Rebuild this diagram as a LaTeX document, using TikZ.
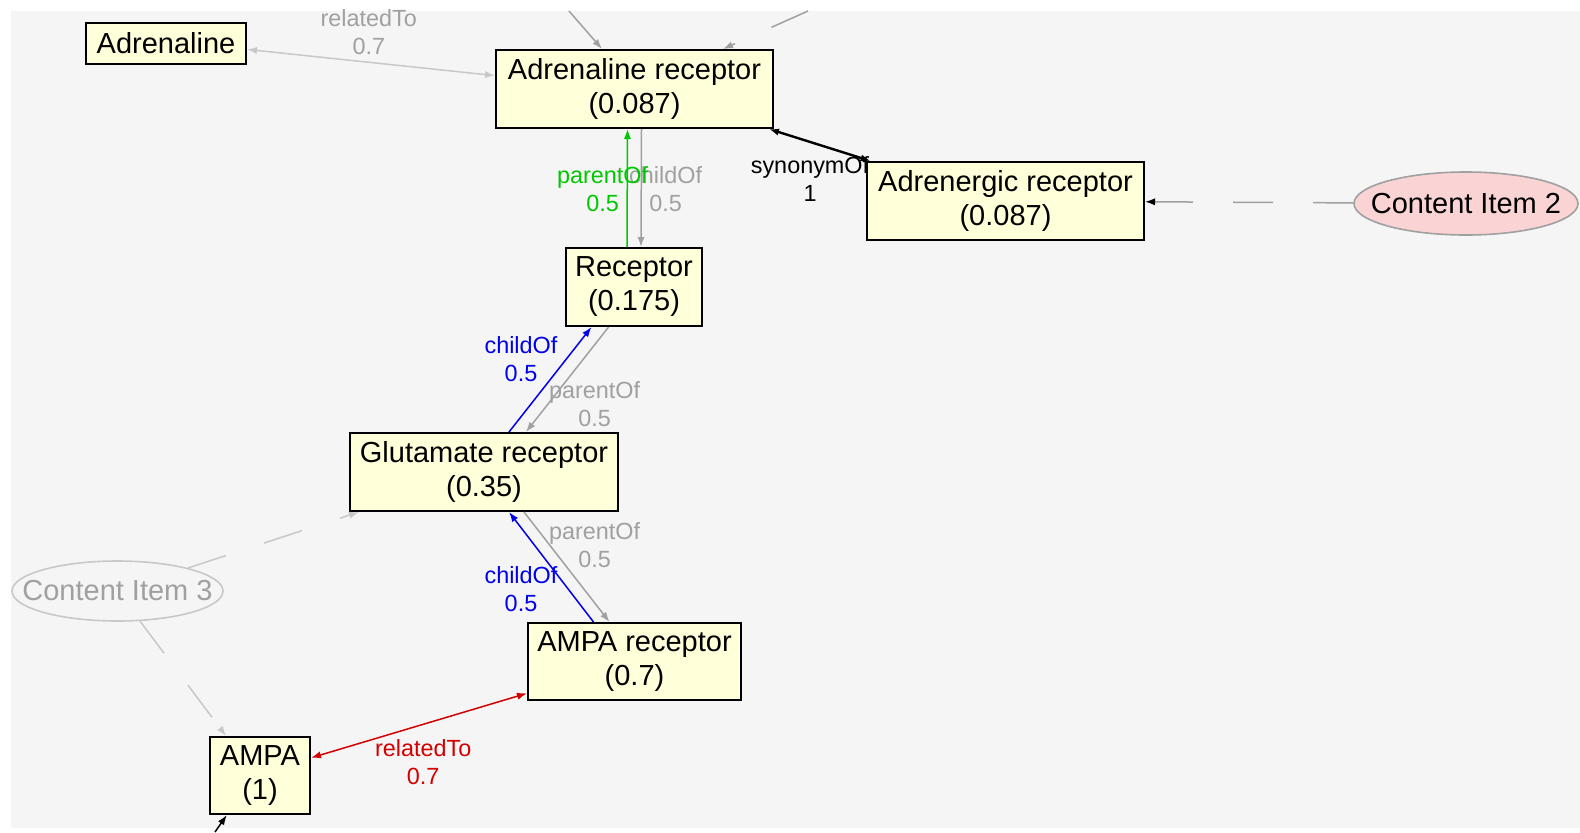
\documentclass[tikz,border=0pt]{standalone}
\usepackage{fontspec}
\setmainfont{Liberation Sans}
\usetikzlibrary{arrows.meta,shapes.geometric}
\definecolor{canvas}{RGB}{245,245,245}
\definecolor{termfill}{RGB}{255,255,218}
\definecolor{itemfill}{RGB}{250,212,212}
\definecolor{faint}{RGB}{200,200,200}
\definecolor{edgegrey}{RGB}{160,160,160}
\definecolor{relred}{RGB}{210,0,0}
\definecolor{childblue}{RGB}{0,0,235}
\definecolor{parentgreen}{RGB}{0,200,0}

\begin{document}
\begin{tikzpicture}
[every node/.style={inner sep=0pt, align=center},
 term/.style={rectangle, fill=termfill, line width=1pt, draw=black, font=\fontsize{14.5}{17}\selectfont},
 item/.style={ellipse, inner xsep=-12pt, line width=0.8pt, font=\fontsize{14.5}{17}\selectfont},
 lbl/.style={font=\fontsize{11.7}{14}\selectfont},
 tip/.style={-{Latex[length=5pt,width=3.6pt]}},
 tips/.style={{Latex[length=5pt,width=3.6pt]}-{Latex[length=5pt,width=3.6pt]}},
 gap/.style={dash pattern=on 20pt off 20pt}]
\useasboundingbox (0pt, 0pt) rectangle (790pt, -416pt);
\fill [canvas] (5.5pt, -5.5pt) rectangle (790pt, -414pt);
% edge labels
\node (lblRelTop) [lbl, text=edgegrey] at (184.4pt, -16.1pt) {relatedTo\\0.7};
\node (lblChildTop) [lbl, text=edgegrey] at (332.8pt, -94.5pt) {childOf\\0.5};
\node (lblParentTop) [lbl, text=parentgreen] at (301.3pt, -94.5pt) {parentOf\\0.5};
\node (lblSynonym) [lbl, text=black] at (405.0pt, -89.3pt) {synonymOf\\1};
\node (lblChildMid) [lbl, text=childblue] at (260.5pt, -179.4pt) {childOf\\0.5};
\node (lblParentMid) [lbl, text=edgegrey] at (297.3pt, -202.3pt) {parentOf\\0.5};
\node (lblParentLow) [lbl, text=edgegrey] at (297.3pt, -272.6pt) {parentOf\\0.5};
\node (lblChildLow) [lbl, text=childblue] at (260.5pt, -294.5pt) {childOf\\0.5};
\node (lblRelLow) [lbl, text=relred] at (211.6pt, -381.2pt) {relatedTo\\0.7};
% concepts
\node (adrenaline) [term, minimum width=80pt, minimum height=20.5pt] at (83.0pt, -21.5pt) {Adrenaline};
\node (adrReceptor) [term, minimum width=138.5pt, minimum height=39pt] at (317.25pt, -44.5pt) {Adrenaline receptor\\(0.087)};
\node (adrenergic) [term, minimum width=138.5pt, minimum height=39pt] at (502.75pt, -100.5pt) {Adrenergic receptor\\(0.087)};
\node (receptor) [term, minimum width=68pt, minimum height=39pt] at (317.0pt, -143.5pt) {Receptor\\(0.175)};
\node (glutamate) [term, minimum width=134pt, minimum height=39pt] at (242.0pt, -236.0pt) {Glutamate receptor\\(0.35)};
\node (ampaReceptor) [term, minimum width=106.5pt, minimum height=38.5pt] at (317.25pt, -330.75pt) {AMPA receptor\\(0.7)};
\node (ampa) [term, minimum width=50pt, minimum height=38.5pt] at (130.0pt, -387.75pt) {AMPA\\(1)};
% content items
\node (item2) [item, minimum width=112pt, minimum height=31.5pt, fill=itemfill, draw=edgegrey] at (733.0pt, -101.75pt) {Content Item 2};
\node (item3) [item, minimum width=105.5pt, minimum height=30pt, draw=faint, text=edgegrey] at (58.75pt, -295.5pt) {Content Item 3};
\coordinate (offTopA) at (284.5pt, -5.5pt);
\coordinate (offTopB) at (404.0pt, -5.5pt);
\coordinate (offBottom) at (107.5pt, -416pt);
% edges
\draw [line width=0.75pt, tips, color=faint] ([yshift=-3.2pt]adrenaline.east) -- ([yshift=6.7pt]adrReceptor.west);
\draw [line width=0.75pt, tip, color=edgegrey] (offTopA) -- ([xshift=-16.25pt]adrReceptor.north);
\draw [line width=0.75pt, tip, gap, color=edgegrey] (offTopB) -- ([xshift=44.25pt]adrReceptor.north);
\draw [line width=0.75pt, tip, color=edgegrey] ([xshift=3.5pt]adrReceptor.south) -- ([xshift=3.5pt]receptor.north);
\draw [line width=0.75pt, tip, color=parentgreen] ([xshift=-3.5pt]receptor.north) -- ([xshift=-3.5pt]adrReceptor.south);
\draw [line width=1.2pt, tips, color=black] ([xshift=-2.5pt]adrReceptor.south east) -- ([xshift=2.3pt]adrenergic.north west);
\draw [line width=0.75pt, gap, color=edgegrey, -{Latex[length=5pt,width=3.6pt,black]}] (item2) -- (adrenergic);
\draw [line width=0.75pt, tip, color=childblue] ([xshift=12.5pt]glutamate.north) -- ([xshift=-21.25pt]receptor.south);
\draw [line width=0.75pt, tip, color=edgegrey] ([xshift=-12.7pt]receptor.south) -- ([xshift=21pt]glutamate.north);
\draw [line width=0.75pt, tip, color=childblue] ([xshift=-20.5pt]ampaReceptor.north) -- ([xshift=12.5pt]glutamate.south);
\draw [line width=0.75pt, tip, color=edgegrey] ([xshift=20pt]glutamate.south) -- ([xshift=-12.5pt]ampaReceptor.north);
\draw [line width=0.75pt, tips, color=relred] ([yshift=8.85pt]ampa.east) -- ([yshift=-15.9pt]ampaReceptor.west);
\draw [line width=0.75pt, tip, gap, color=faint] (item3) -- ([xshift=5pt]glutamate.south west);
\draw [line width=0.75pt, tip, gap, color=faint] (item3) -- ([xshift=-17pt]ampa.north);
\draw [line width=0.75pt, tip, color=black] (offBottom) -- ([xshift=-16.6pt]ampa.south);
\end{tikzpicture}
\end{document}
